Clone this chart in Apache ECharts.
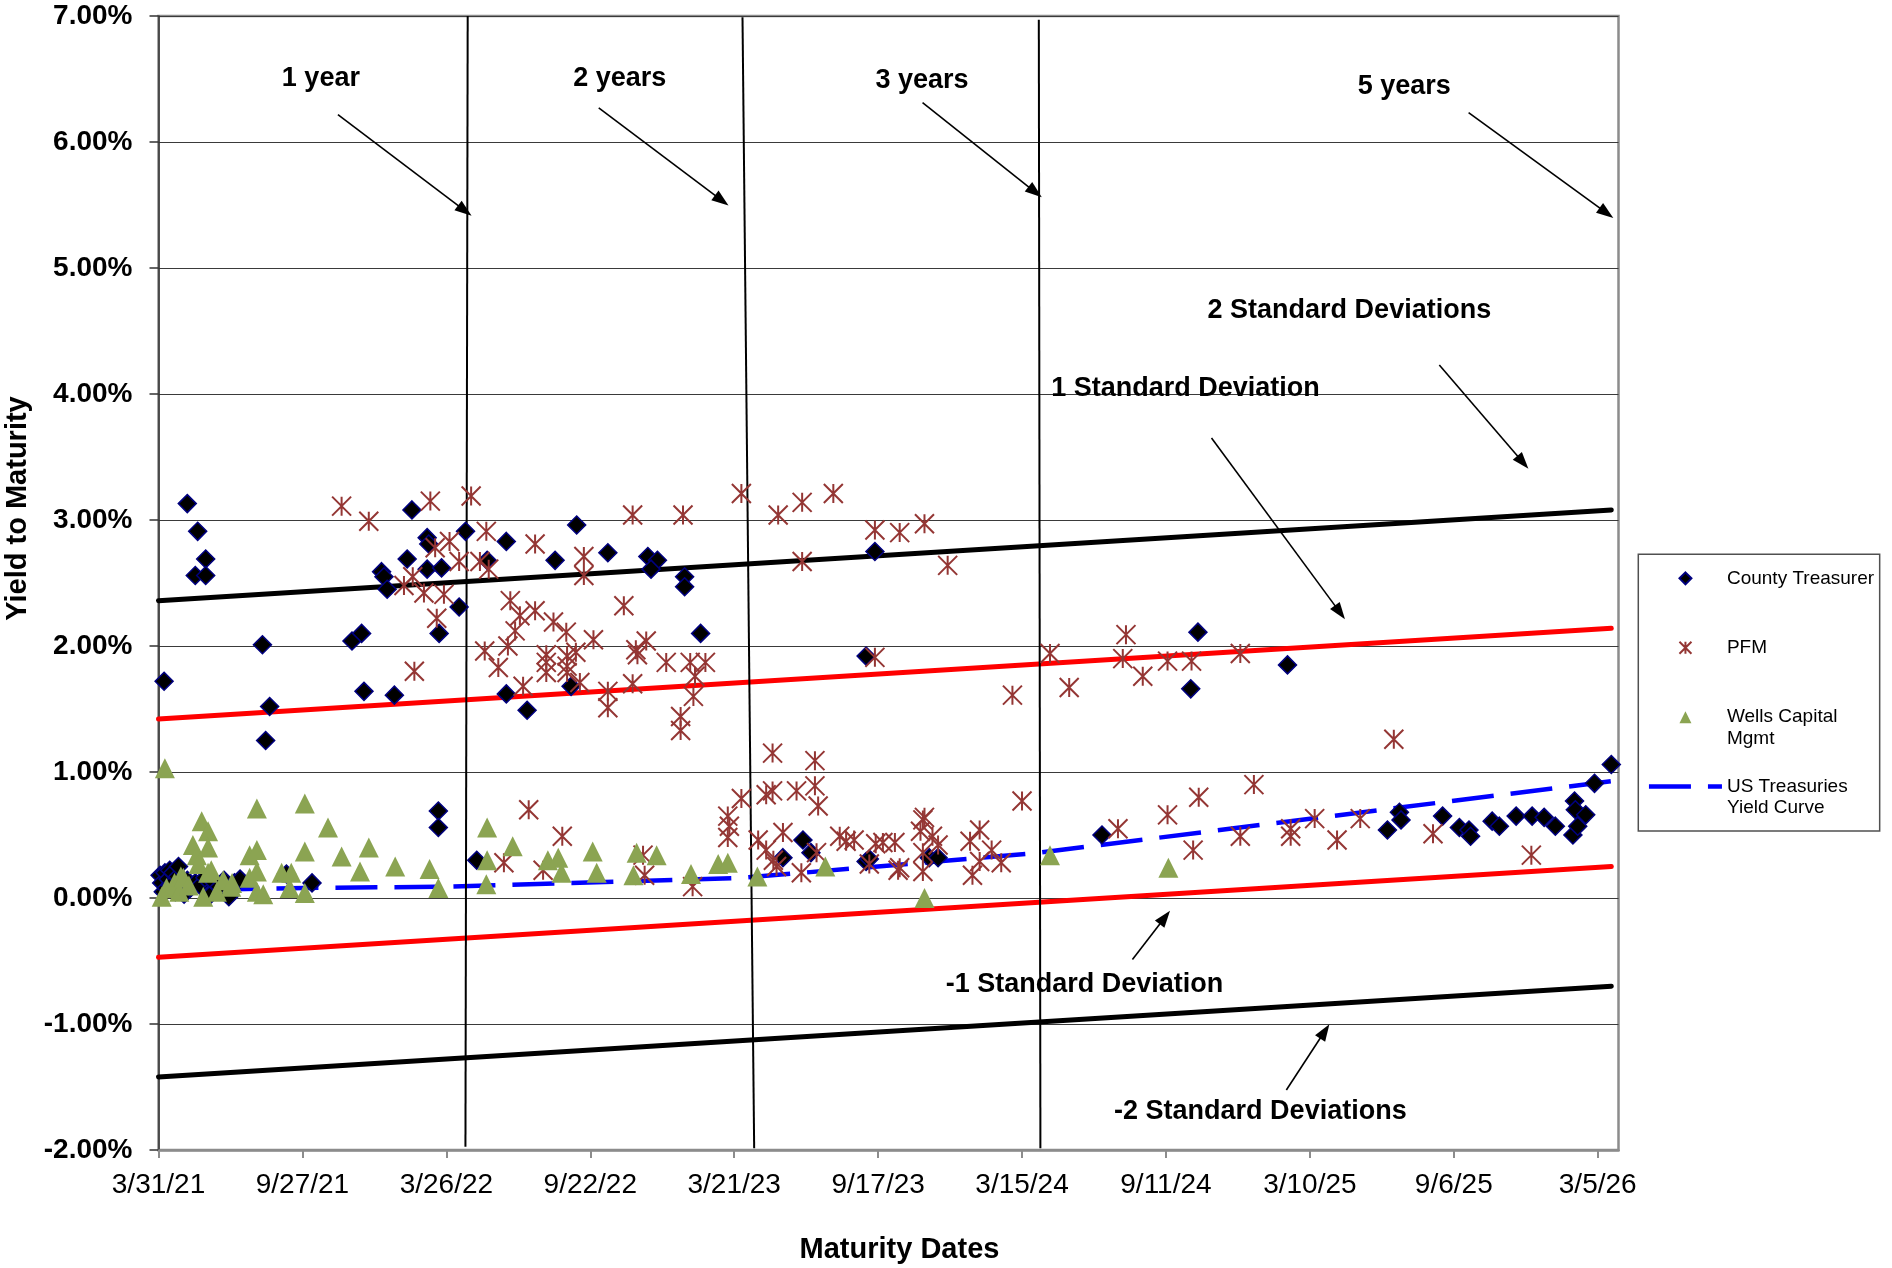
<!DOCTYPE html>
<html>
<head>
<meta charset="utf-8">
<script src="https://cdn.jsdelivr.net/npm/echarts@6/dist/echarts.min.js"></script>
<style>
html,body{margin:0;padding:0;background:#ffffff;}
#chart{width:1892px;height:1268px;}
</style>
</head>
<body>
<div id="chart"></div>
<script>
// ---------------- DATA ----------------
// x = days to maturity counted from 3/31/21, y = yield to maturity in %
const xTickLabels = ['3/31/21','9/27/21','3/26/22','9/22/22','3/21/23','9/17/23','3/15/24','9/11/24','3/10/25','9/6/25','3/5/26'];
const yTickLabels = ['-2.00%','-1.00%','0.00%','1.00%','2.00%','3.00%','4.00%','5.00%','6.00%','7.00%'];

const countyTreasurer = [
  [7,1.72],[36,3.13],[49,2.91],[46,2.56],[59,2.69],[59,2.56],[130,2.01],[139,1.52],[134,1.25],
  [242,2.04],[254,2.10],[257,1.64],[279,2.59],[282,2.55],[286,2.45],[295,1.61],[311,2.69],[317,3.08],
  [336,2.86],[338,2.81],[336,2.61],[354,2.62],[351,2.10],[376,2.31],[384,2.91],[411,2.68],[435,2.83],
  [435,1.62],[461,1.49],[496,2.68],[523,2.96],[516,1.68],[562,2.74],[612,2.71],[624,2.68],[616,2.61],
  [658,2.55],[658,2.47],[678,2.10],[896,2.75],[885,1.92],[1300,2.11],[1291,1.66],[1412,1.85],
  [2,0.18],[4,0.12],[6,0.05],[8,0.20],[10,0.08],[12,0.15],[14,0.22],[15,0.10],[18,0.20],[21,0.05],
  [24,0.17],[25,0.25],[28,0.12],[32,0.03],[36,0.14],[40,0.08],[46,0.12],[52,0.10],[58,0.16],[64,0.02],
  [70,0.12],[76,0.09],[82,0.14],[88,0.01],[95,0.12],[102,0.15],[160,0.19],[192,0.12],[350,0.69],
  [350,0.56],[398,0.30],
  [781,0.32],[806,0.46],[816,0.36],[885,0.29],[889,0.31],[964,0.32],[975,0.32],[1180,0.50],
  [1537,0.54],[1552,0.68],[1554,0.62],[1606,0.65],[1627,0.56],[1639,0.54],[1641,0.49],[1668,0.61],
  [1677,0.57],[1698,0.65],[1718,0.65],[1733,0.64],[1747,0.57],[1769,0.50],[1771,0.77],[1772,0.70],
  [1775,0.57],[1785,0.66],[1796,0.91],[1817,1.06]
];

const pfm = [
  [229,3.11],[263,2.99],[307,2.48],[318,2.55],[320,1.80],[332,2.42],[340,3.15],[346,2.78],[348,2.22],
  [357,2.41],[364,2.83],[376,2.67],[391,3.19],[402,2.67],[410,2.91],[413,2.61],[408,1.96],[425,1.83],
  [437,2.00],[440,2.36],[446,2.12],[452,2.24],[456,1.68],[471,2.81],[471,2.28],[494,2.19],[485,1.93],
  [485,1.87],[485,1.79],[510,2.11],[511,1.92],[511,1.84],[511,1.79],[522,1.95],[527,1.71],[532,2.71],
  [532,2.56],[544,2.05],[562,1.64],[562,1.51],[582,2.32],[593,3.04],[593,1.70],[597,1.97],[599,1.93],
  [610,2.04],[635,1.87],[653,1.44],[653,1.33],[656,3.04],[665,1.87],[671,1.76],[669,1.60],[684,1.87],
  [729,3.21],[775,3.04],[805,3.14],[844,3.21],[805,2.67],[896,2.92],[927,2.90],[958,2.97],[987,2.64],
  [896,1.91],[1068,1.61],[1115,1.94],[1139,1.67],[1210,2.09],[1206,1.90],[1231,1.76],[1262,1.88],
  [1292,1.88],[1353,1.94],[1545,1.26],
  [432,0.28],[463,0.70],[481,0.22],[505,0.49],[606,0.34],[608,0.18],[668,0.09],[712,0.65],[714,0.57],
  [712,0.48],[729,0.79],[750,0.46],[760,0.38],[760,0.82],[768,1.15],[768,0.85],[769,0.30],[781,0.52],
  [798,0.85],[821,1.09],[821,0.89],[825,0.73],[773,0.25],[804,0.20],[823,0.36],[852,0.49],[860,0.45],
  [870,0.46],[889,0.27],[897,0.43],[906,0.44],[921,0.44],[925,0.22],[927,0.24],[956,0.62],[953,0.53],
  [956,0.36],[956,0.21],[958,0.64],[968,0.49],[975,0.42],[1015,0.45],[1027,0.54],[1018,0.18],
  [1027,0.29],[1042,0.38],[1054,0.28],[1080,0.77],[1200,0.55],[1262,0.66],[1294,0.38],[1301,0.80],
  [1353,0.49],[1370,0.90],[1416,0.55],[1416,0.49],[1446,0.63],[1474,0.46],[1503,0.63],[1594,0.51],
  [1717,0.34]
];

const wellsCapital = [
  [8,1.03],[4,0.01],[10,0.08],[20,0.12],[26,0.05],[28,0.17],[31,0.16],[38,0.10],[43,0.42],[48,0.34],
  [50,0.27],[54,0.61],[56,0.01],[62,0.53],[62,0.40],[62,0.20],[66,0.22],[73,0.05],[81,0.14],[91,0.09],
  [92,0.12],[114,0.34],[114,0.16],[123,0.71],[123,0.38],[123,0.21],[123,0.05],[131,0.03],[154,0.20],
  [164,0.08],[166,0.20],[183,0.75],[183,0.37],[183,0.04],[212,0.56],[229,0.33],[252,0.21],[263,0.40],
  [296,0.25],[339,0.23],[350,0.08],[411,0.56],[411,0.30],[410,0.11],[443,0.41],[487,0.30],[500,0.32],
  [504,0.20],[543,0.37],[548,0.20],[594,0.18],[598,0.36],[623,0.34],[666,0.19],[700,0.27],[712,0.28],
  [749,0.17],[834,0.25],[958,0.00],[1115,0.34],[1263,0.24]
];

const usTreasuries = [[0,0.05],[91,0.07],[182,0.08],[365,0.09],[730,0.16],[1095,0.355],[1820,0.93]];

const plus2SD  = [[0,2.36],[1817,3.08]];
const plus1SD  = [[0,1.42],[1817,2.14]];
const minus1SD = [[0,-0.47],[1817,0.25]];
const minus2SD = [[0,-1.42],[1817,-0.70]];

// annotation shapes (data coordinates)
const yearLines = [
  [[386.7,7.0],[383.9,-1.974]],
  [[730.4,6.99],[745.0,-1.987]],
  [[1101.0,6.97],[1103.0,-1.987]]
];
const calloutTexts = [
  ['1 year',203.1,6.502],['2 years',576.9,6.502],['3 years',955.0,6.484],['5 years',1558.1,6.444],
  ['2 Standard Deviations',1489.4,4.659],['1 Standard Deviation',1284.4,4.040],
  ['-1 Standard Deviation',1158.1,-0.683],['-2 Standard Deviations',1378.1,-1.698]
];
const calloutArrows = [
  [[224.4,6.217],[383.1,5.456]],
  [[550.6,6.270],[704.4,5.536]],
  [[955.6,6.312],[1096.4,5.603]],
  [[1638.5,6.233],[1810.9,5.437]],
  [[1601.9,4.230],[1706.4,3.458]],
  [[1317.0,3.651],[1477.6,2.267]],
  [[1218.1,-0.488],[1258.6,-0.154]],
  [[1410.6,-1.524],[1458.6,-1.058]]
];

const legendLabels = {
  'County Treasurer': '\nCounty Treasurer\n',
  'PFM': '\nPFM\n',
  'Wells Capital Mgmt': '\nWells Capital\nMgmt',
  'US Treasuries Yield Curve': '\nUS Treasuries\nYield Curve'
};

// ---------------- CHART ----------------
const FONT = "'Liberation Sans', Arial, Helvetica, sans-serif";
const ASTERISK = 'path://M0,0L10,10M10,0L0,10M5,0L5,10';
const DIAMOND_ICON = 'path://M5,0L10,5L5,10L0,5Z';
const TRIANGLE_ICON = 'path://M5,0L10,10L0,10Z';
const chart = echarts.init(document.getElementById('chart'), null, {renderer: 'canvas'});

function sdLine(name, data, color) {
  return {
    name: name, type: 'line', data: data, symbol: 'none', silent: true, z: 3,
    lineStyle: {color: color, width: 5, cap: 'round'}
  };
}

const option = {
  animation: false,
  backgroundColor: '#ffffff',
  textStyle: {fontFamily: FONT},
  grid: {
    left: 158.5, right: 273.5, top: 16, bottom: 118,
    show: true, borderColor: '#8c8c8c', borderWidth: 2.5, backgroundColor: '#ffffff',
    containLabel: false, outerBoundsMode: 'none'
  },
  xAxis: {
    type: 'value', min: 0, max: 1826, interval: 180,
    axisLine: {show: true, onZero: false, lineStyle: {color: '#8c8c8c', width: 2.5}},
    axisTick: {show: true, length: 8, lineStyle: {color: '#8c8c8c', width: 2}},
    splitLine: {show: false},
    axisLabel: {
      fontSize: 28, color: '#000', fontFamily: FONT, margin: 21, showMaxLabel: false,
      formatter: function (v) { return (v % 180 === 0) ? (xTickLabels[v / 180] || '') : ''; }
    },
    name: 'Maturity Dates', nameLocation: 'middle', nameGap: 85,
    nameTextStyle: {fontSize: 29, fontWeight: 'bold', color: '#000', fontFamily: FONT, padding: [0,0,0,22]}
  },
  yAxis: {
    type: 'value', min: -2, max: 7, interval: 1,
    axisLine: {show: true, onZero: false, lineStyle: {color: '#333333', width: 1.5}},
    axisTick: {show: true, length: 9, lineStyle: {color: '#333333', width: 1.5}},
    splitLine: {show: true, lineStyle: {color: '#3a3a3a', width: 1.2}},
    axisLabel: {
      fontSize: 28, fontWeight: 'bold', color: '#000', fontFamily: FONT, margin: 26,
      formatter: function (v) { return yTickLabels[Math.round(v) + 2]; }
    },
    name: 'Yield to Maturity', nameLocation: 'middle', nameRotate: 90, nameGap: 122,
    nameTextStyle: {fontSize: 29, fontWeight: 'bold', color: '#000', fontFamily: FONT, padding: [0,0,0,149]}
  },
  legend: {
    orient: 'vertical', left: 1638.3, top: 554.3,
    padding: [-8.5, 5.6, 11.8, 8.4],
    itemWidth: 73, itemHeight: 12, itemGap: 4.3,
    symbolKeepAspect: true,
    borderColor: '#505050', borderWidth: 1.5, backgroundColor: '#ffffff',
    selectedMode: false,
    textStyle: {fontSize: 19, lineHeight: 21.7, color: '#000', fontFamily: FONT},
    lineStyle: {width: 4.5},
    formatter: function (name) { return legendLabels[name]; },
    data: [
      {name: 'County Treasurer', icon: DIAMOND_ICON, symbolKeepAspect: true},
      {name: 'PFM', icon: ASTERISK, symbolKeepAspect: true},
      {name: 'Wells Capital Mgmt', icon: TRIANGLE_ICON, symbolKeepAspect: true},
      {name: 'US Treasuries Yield Curve', itemStyle: {opacity: 0}}
    ]
  },
  series: [
    sdLine('+2 Standard Deviations', plus2SD, '#000000'),
    sdLine('+1 Standard Deviation', plus1SD, '#ff0000'),
    sdLine('-1 Standard Deviation', minus1SD, '#ff0000'),
    sdLine('-2 Standard Deviations', minus2SD, '#000000'),
    {
      name: 'US Treasuries Yield Curve', type: 'line', data: usTreasuries, symbol: 'none', silent: true, z: 4,
      itemStyle: {color: '#0000ff', opacity: 0},
      lineStyle: {color: '#0000ff', width: 4.5, type: [42, 17], cap: 'butt', opacity: 1}
    },
    {
      name: 'year lines', type: 'scatter', data: [], silent: true, z: 5,
      markLine: {
        silent: true, animation: false, symbol: ['none', 'none'],
        label: {show: false},
        lineStyle: {color: '#000000', width: 2, type: 'solid'},
        data: yearLines.map(function (l) { return [{coord: l[0]}, {coord: l[1]}]; })
      }
    },
    {
      name: 'County Treasurer', type: 'scatter', data: countyTreasurer, silent: true, z: 6,
      symbol: 'diamond', symbolSize: 18, symbolKeepAspect: true,
      itemStyle: {color: '#000000', borderColor: '#000080', borderWidth: 1.5, opacity: 1}
    },
    {
      name: 'PFM', type: 'scatter', data: pfm, silent: true, z: 7,
      symbol: ASTERISK, symbolSize: 19, symbolKeepAspect: true,
      itemStyle: {color: '#943634', borderColor: '#943634', borderWidth: 2, opacity: 1}
    },
    {
      name: 'Wells Capital Mgmt', type: 'scatter', data: wellsCapital, silent: true, z: 8,
      symbol: 'triangle', symbolSize: 20, symbolKeepAspect: true,
      itemStyle: {color: '#8ba452', opacity: 1}
    },
    {
      name: 'callouts', type: 'scatter', data: [], silent: true, z: 9,
      markLine: {
        silent: true, animation: false,
        symbol: ['none', 'triangle'], symbolSize: [12, 17],
        label: {show: false},
        lineStyle: {color: '#000000', width: 1.6, type: 'solid'},
        itemStyle: {color: '#000000'},
        data: calloutArrows.map(function (a) { return [{coord: a[0]}, {coord: a[1]}]; })
      },
      markPoint: {
        silent: true, animation: false,
        symbol: 'circle', symbolSize: 1,
        itemStyle: {color: 'rgba(0,0,0,0)'},
        label: {
          show: true, position: 'inside', fontSize: 27, fontWeight: 'bold', color: '#000',
          fontFamily: FONT, formatter: function (p) { return p.name; }
        },
        data: calloutTexts.map(function (t) { return {name: t[0], coord: [t[1], t[2]]}; })
      }
    }
  ]
};
chart.setOption(option);
</script>
</body>
</html>
